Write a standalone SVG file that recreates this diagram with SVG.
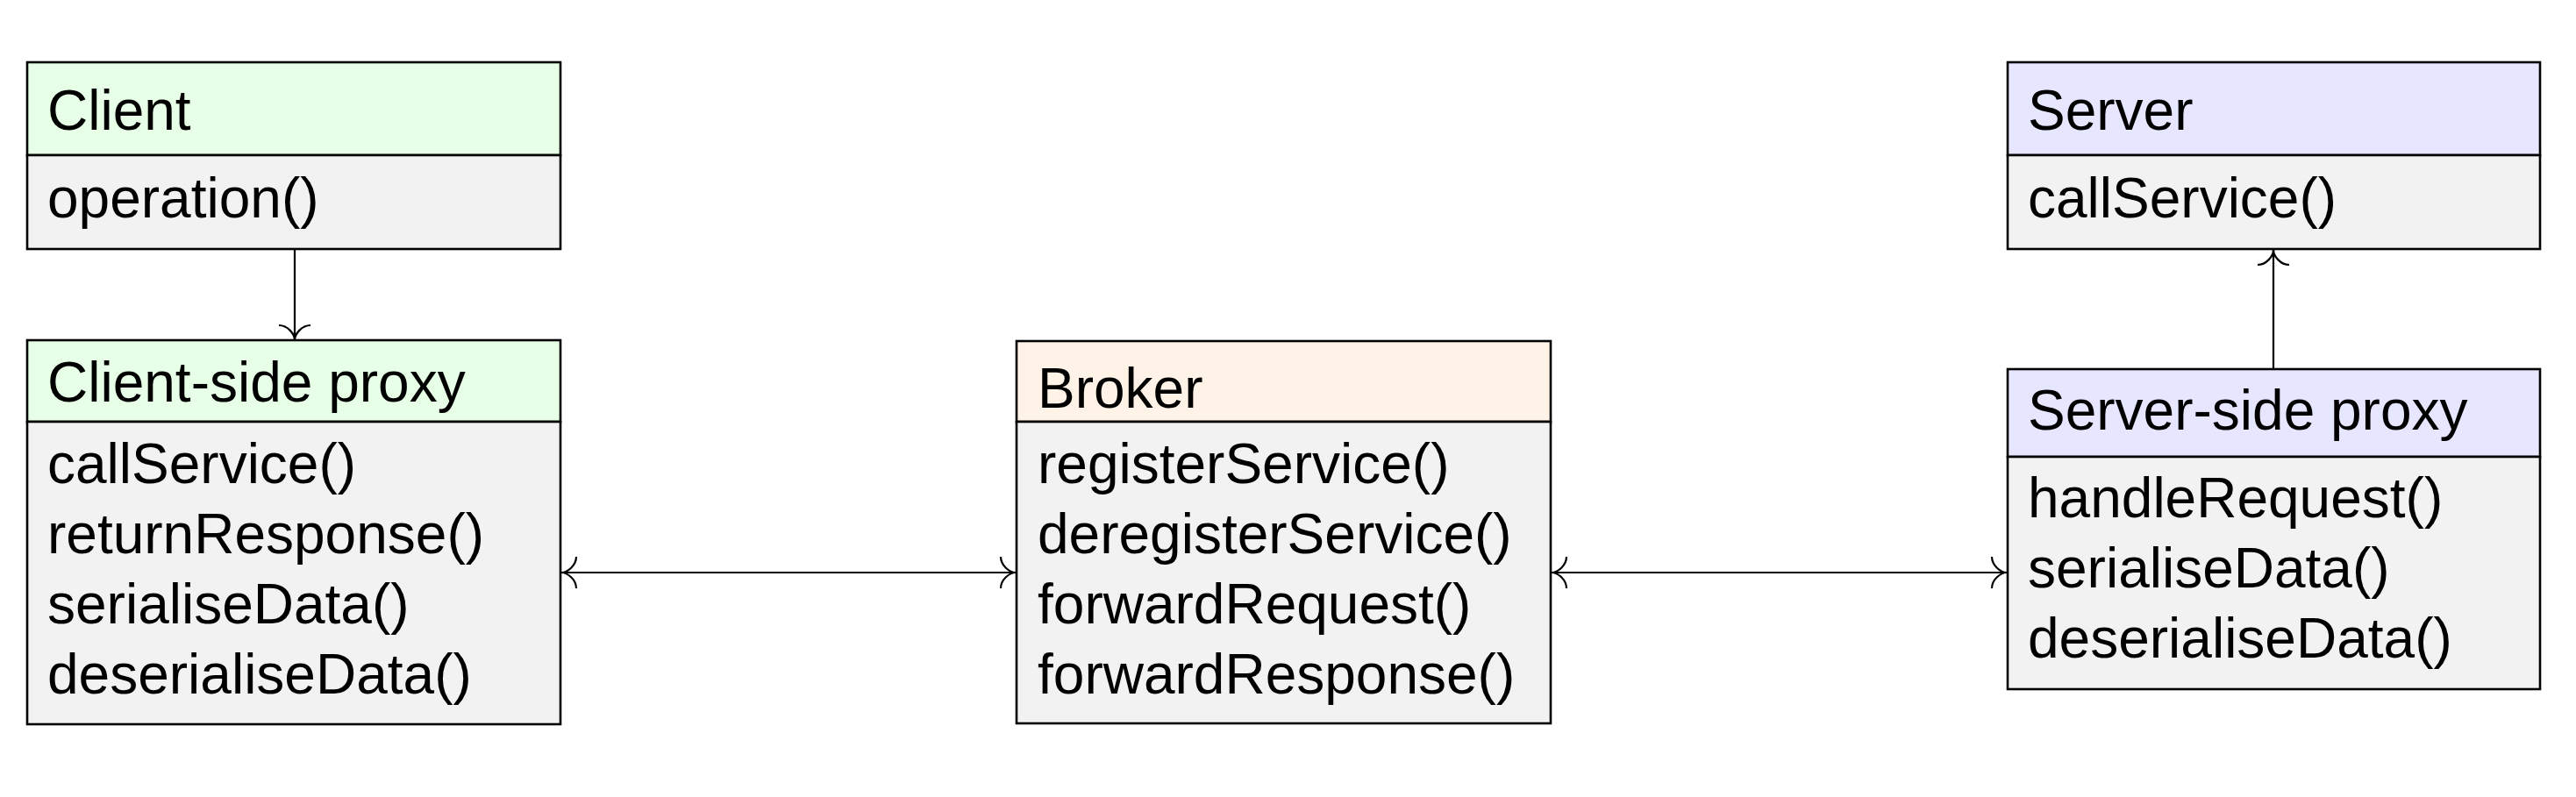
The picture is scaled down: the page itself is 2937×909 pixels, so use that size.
<svg xmlns="http://www.w3.org/2000/svg" width="2937" height="909" viewBox="0 0 2937 909">
<style>
text{font-family:"Liberation Sans",Arial,Helvetica,sans-serif;font-size:64px;fill:#000}
.box{stroke:#000;stroke-width:2.6}
.g{fill:#E6FFE6}.b{fill:#E6E6FF}.o{fill:#FFF2E6}.body{fill:#F2F2F2}
.conn{stroke:#000;stroke-width:2.2;fill:none}
</style>
<defs>
<marker id="to" viewBox="-22 -22 26 44" refX="0" refY="0" markerWidth="26" markerHeight="44" markerUnits="userSpaceOnUse" orient="auto-start-reverse">
<path d="M-17,-18 C-17,-8 -7,0 0,0 C-7,0 -17,8 -17,18" fill="none" stroke="#000" stroke-width="2.2"/>
</marker>
</defs>
<rect width="2937" height="909" fill="#fff"/>
<g id="client">
<rect class="box g" x="31" y="71" width="608" height="106"/>
<rect class="box body" x="31" y="177" width="608" height="107"/>
<text x="54" y="148">Client</text>
<text x="54" y="248">operation()</text>
</g>
<g id="client-proxy">
<rect class="box g" x="31" y="388" width="608" height="93"/>
<rect class="box body" x="31" y="481" width="608" height="345"/>
<text x="54" y="458">Client-side proxy</text>
<text x="54" y="551">callService()</text>
<text x="54" y="631">returnResponse()</text>
<text x="54" y="711">serialiseData()</text>
<text x="54" y="791">deserialiseData()</text>
</g>
<g id="broker">
<rect class="box o" x="1159" y="389" width="609" height="92"/>
<rect class="box body" x="1159" y="481" width="609" height="344"/>
<text x="1183" y="465">Broker</text>
<text x="1183" y="551">registerService()</text>
<text x="1183" y="631">deregisterService()</text>
<text x="1183" y="711">forwardRequest()</text>
<text x="1183" y="791">forwardResponse()</text>
</g>
<g id="server">
<rect class="box b" x="2289" y="71" width="607" height="106"/>
<rect class="box body" x="2289" y="177" width="607" height="107"/>
<text x="2312" y="148">Server</text>
<text x="2312" y="248">callService()</text>
</g>
<g id="server-proxy">
<rect class="box b" x="2289" y="421" width="607" height="100"/>
<rect class="box body" x="2289" y="521" width="607" height="265"/>
<text x="2312" y="490">Server-side proxy</text>
<text x="2312" y="590">handleRequest()</text>
<text x="2312" y="670">serialiseData()</text>
<text x="2312" y="750">deserialiseData()</text>
</g>
<g id="connectors">
<line class="conn" x1="336" y1="284" x2="336" y2="388" marker-end="url(#to)"/>
<line class="conn" x1="640" y1="653" x2="1158" y2="653" marker-start="url(#to)" marker-end="url(#to)"/>
<line class="conn" x1="1769" y1="653" x2="2288" y2="653" marker-start="url(#to)" marker-end="url(#to)"/>
<line class="conn" x1="2592" y1="421" x2="2592" y2="285" marker-end="url(#to)"/>
</g>
</svg>
